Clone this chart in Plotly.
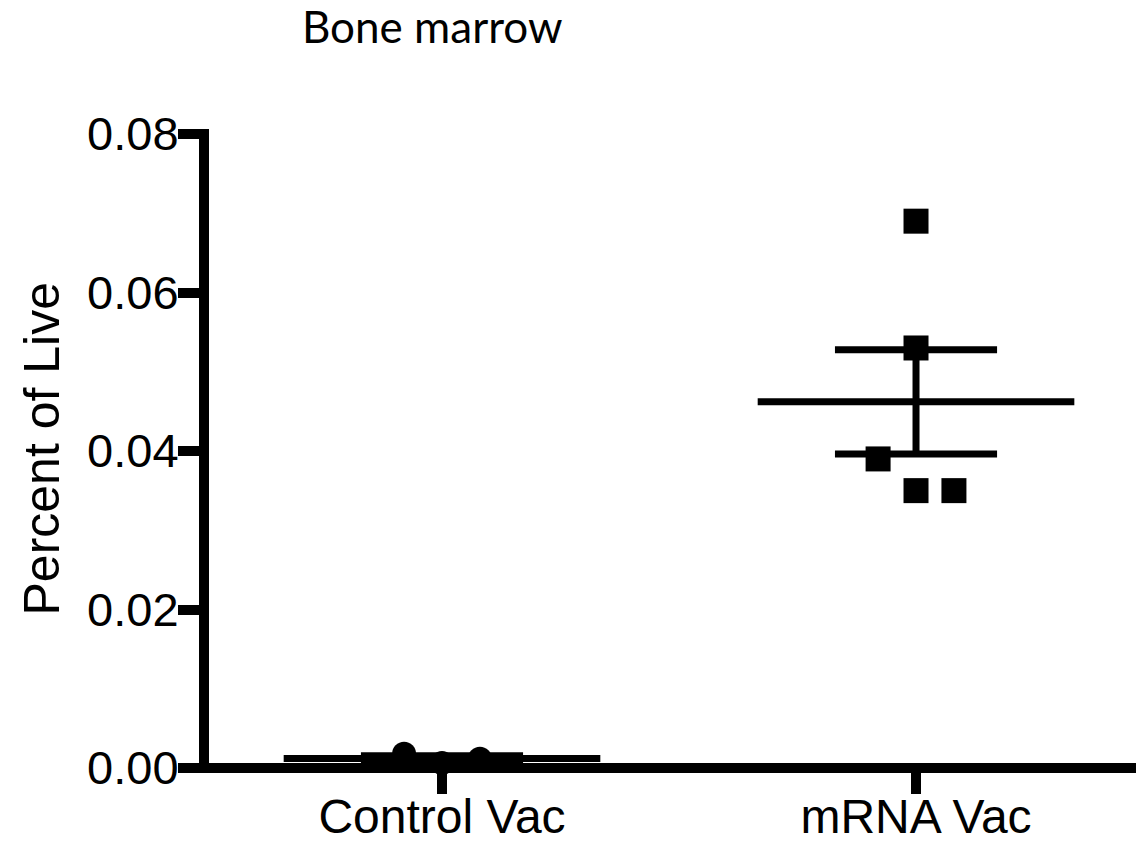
import numpy as np
import plotly.graph_objects as go

# ---- data -------------------------------------------------------------
groups = ["Control Vac", "mRNA Vac"]
control_vac = [0.0018, 0.00063, 0.00117]
mrna_vac = [0.069, 0.053, 0.039, 0.035, 0.035]
y_tick_vals = [0.00, 0.02, 0.04, 0.06, 0.08]
y_tick_text = ["0.00", "0.02", "0.04", "0.06", "0.08"]
chart_title = "Bone marrow"
y_title = "Percent of Live"

# ---- dot-plot layout (column slots for points sharing a row) ---------
control_slots = [-1, 0, 1]
mrna_slots = [0, 0, -1, 0, 1]
SLOT_W = 0.08      # spacing between neighbouring points, x units
MEAN_HALF = 0.334  # half length of the mean bar
CAP_HALF = 0.171   # half length of the SEM caps

# page geometry
W, H = 1136, 844
ML, MR, MT, MB = 204, 0, 134, 76
PW, PH = W - ML - MR, H - MT - MB
AXIS_W = 10
X_RANGE = [-0.5021, 1.4641]
Y_RANGE = [0.0, 0.08]

SANS = "Liberation Sans, Arial, sans-serif"

fig = go.Figure()

series = [(control_vac, control_slots, "circle", 24),
          (mrna_vac, mrna_slots, "square", 25)]

for i, (vals, slots, symbol, size) in enumerate(series):
    vals = np.asarray(vals, dtype=float)
    xs = [i + s * SLOT_W for s in slots]
    fig.add_trace(go.Scatter(
        x=xs, y=vals, mode="markers",
        marker=dict(symbol=symbol, size=size, color="black", line=dict(width=0)),
        cliponaxis=False, showlegend=False, hoverinfo="y",
    ))

    mean = vals.mean()
    sem = vals.std(ddof=1) / np.sqrt(len(vals))
    lo, hi = mean - sem, mean + sem

    # mean bar
    fig.add_trace(go.Scatter(
        x=[i - MEAN_HALF, i + MEAN_HALF], y=[mean, mean], mode="lines",
        line=dict(color="black", width=7), cliponaxis=False,
        showlegend=False, hoverinfo="skip",
    ))
    # SEM whisker with caps
    fig.add_trace(go.Scatter(
        x=[i, i, None, i - CAP_HALF, i + CAP_HALF, None, i - CAP_HALF, i + CAP_HALF],
        y=[lo, hi, None, hi, hi, None, lo, lo], mode="lines",
        line=dict(color="black", width=7), cliponaxis=False,
        showlegend=False, hoverinfo="skip",
    ))

# axis lines (drawn centred on the frame edges so ticks meet them)
fig.add_shape(type="line", xref="paper", yref="paper",
              x0=0, x1=0, y0=-AXIS_W / 2 / PH, y1=1 + AXIS_W / 2 / PH,
              line=dict(color="black", width=AXIS_W))
fig.add_shape(type="line", xref="paper", yref="paper",
              x0=-AXIS_W / 2 / PW, x1=1, y0=0, y1=0,
              line=dict(color="black", width=AXIS_W))

fig.update_xaxes(
    range=X_RANGE, tickvals=list(range(len(groups))), ticktext=groups,
    showgrid=False, zeroline=False, showline=False, automargin=False,
    ticks="outside", ticklen=25, tickwidth=AXIS_W, tickcolor="black",
    tickfont=dict(family=SANS, size=48, color="black"),
    ticklabelstandoff=-19, fixedrange=True,
)
fig.update_yaxes(
    range=Y_RANGE, tickvals=y_tick_vals, ticktext=y_tick_text,
    showgrid=False, zeroline=False, showline=False, automargin=False,
    ticks="outside", ticklen=25, tickwidth=AXIS_W, tickcolor="black",
    tickfont=dict(family=SANS, size=47, color="black"),
    ticklabelstandoff=-10, fixedrange=True,
)

fig.add_annotation(
    text=y_title, textangle=-90, showarrow=False,
    xref="paper", yref="paper", x=(41 - ML) / PW, y=(H - MB - 448.5) / PH,
    xanchor="center", yanchor="middle",
    font=dict(family=SANS, size=50, color="black"),
)

fig.update_layout(
    width=W, height=H,
    margin=dict(l=ML, r=MR, t=MT, b=MB, pad=0, autoexpand=False),
    paper_bgcolor="white", plot_bgcolor="white",
    title=dict(
        text=chart_title, xref="container", yref="container",
        x=302 / W, xanchor="left", y=1 - 28 / H, yanchor="middle",
        font=dict(family="Lato, Calibri, sans-serif", size=44, color="black"),
        automargin=False,
    ),
    showlegend=False,
)

fig.write_html("out.html")
